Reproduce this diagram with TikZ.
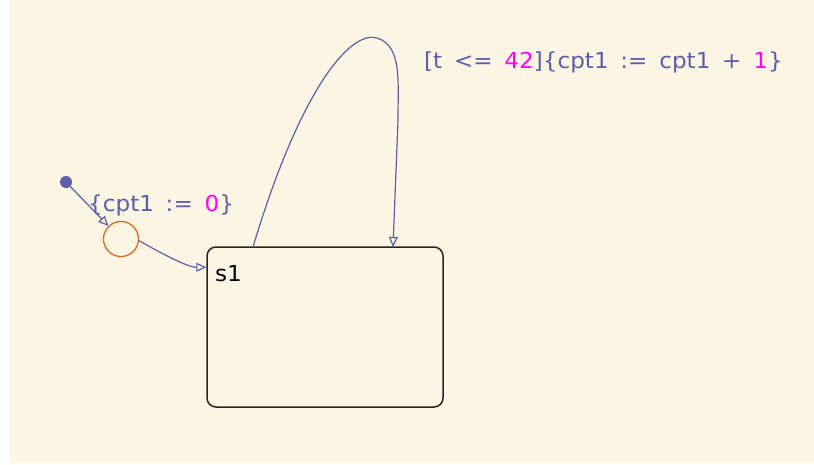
\documentclass[tikz,border=0pt]{standalone}
\usepackage{fontspec}
\setmainfont{DejaVu Sans}[FakeStretch=1.05, WordSpace=1.6]
\usetikzlibrary{arrows.meta}
\definecolor{bg}{RGB}{253,245,228}
\definecolor{trans}{RGB}{92,94,170}
\definecolor{num}{RGB}{255,0,255}
\definecolor{junc}{RGB}{210,110,40}
\tikzset{
  statebox/.style={draw=black!85, line width=1.5pt, rounded corners=9pt, minimum width=236pt, minimum height=160pt, inner sep=0pt},
  transline/.style={draw=trans, line width=1.2pt, -{Triangle[open,length=10pt,width=9pt]}},
  lbl/.style={text=trans, font=\fontsize{22}{24}\selectfont, inner sep=0pt},
}
\begin{document}
\begin{tikzpicture}[x=1pt,y=-1pt]
\useasboundingbox (0,0) rectangle (814,464);
\fill[bg] (10,0) rectangle (814,463);
% state
\node[statebox] (s1) at (325,327) {};
\node[anchor=north west, inner sep=0pt, font=\fontsize{22}{24}\selectfont] (s1lbl) at (215,265) {s1};
% default transition
\fill[trans] (66,182) circle (6pt) coordinate (dot);
\node[draw=junc, line width=1.3pt, circle, minimum size=35pt, inner sep=0pt] (j) at (121,239) {};
\coordinate (d0) at (66,182);
\draw[transline] (d0) -- (j);
\node[lbl, anchor=west] (l1) at (88,205) {\{cpt1 := \textcolor{num}{0}\}};
\draw[transline] (j.-5) to[out=-30,in=180,looseness=0.7] ([yshift=-21pt]s1.north west);
% self loop
\coordinate (a) at (253,247);
\coordinate (p) at (377,38);
\coordinate (q) at (398,120);
\coordinate (b) at (393,247);
\draw[transline] (a) .. controls (300,90) and (350,30) .. (p) .. controls (402,46) and (398,80) .. (q) -- (b);
\node[lbl, anchor=west] (l2) at (424,62) {[t <= \textcolor{num}{42}]\{cpt1 := cpt1 + \textcolor{num}{1}\}};
\end{tikzpicture}
\end{document}
